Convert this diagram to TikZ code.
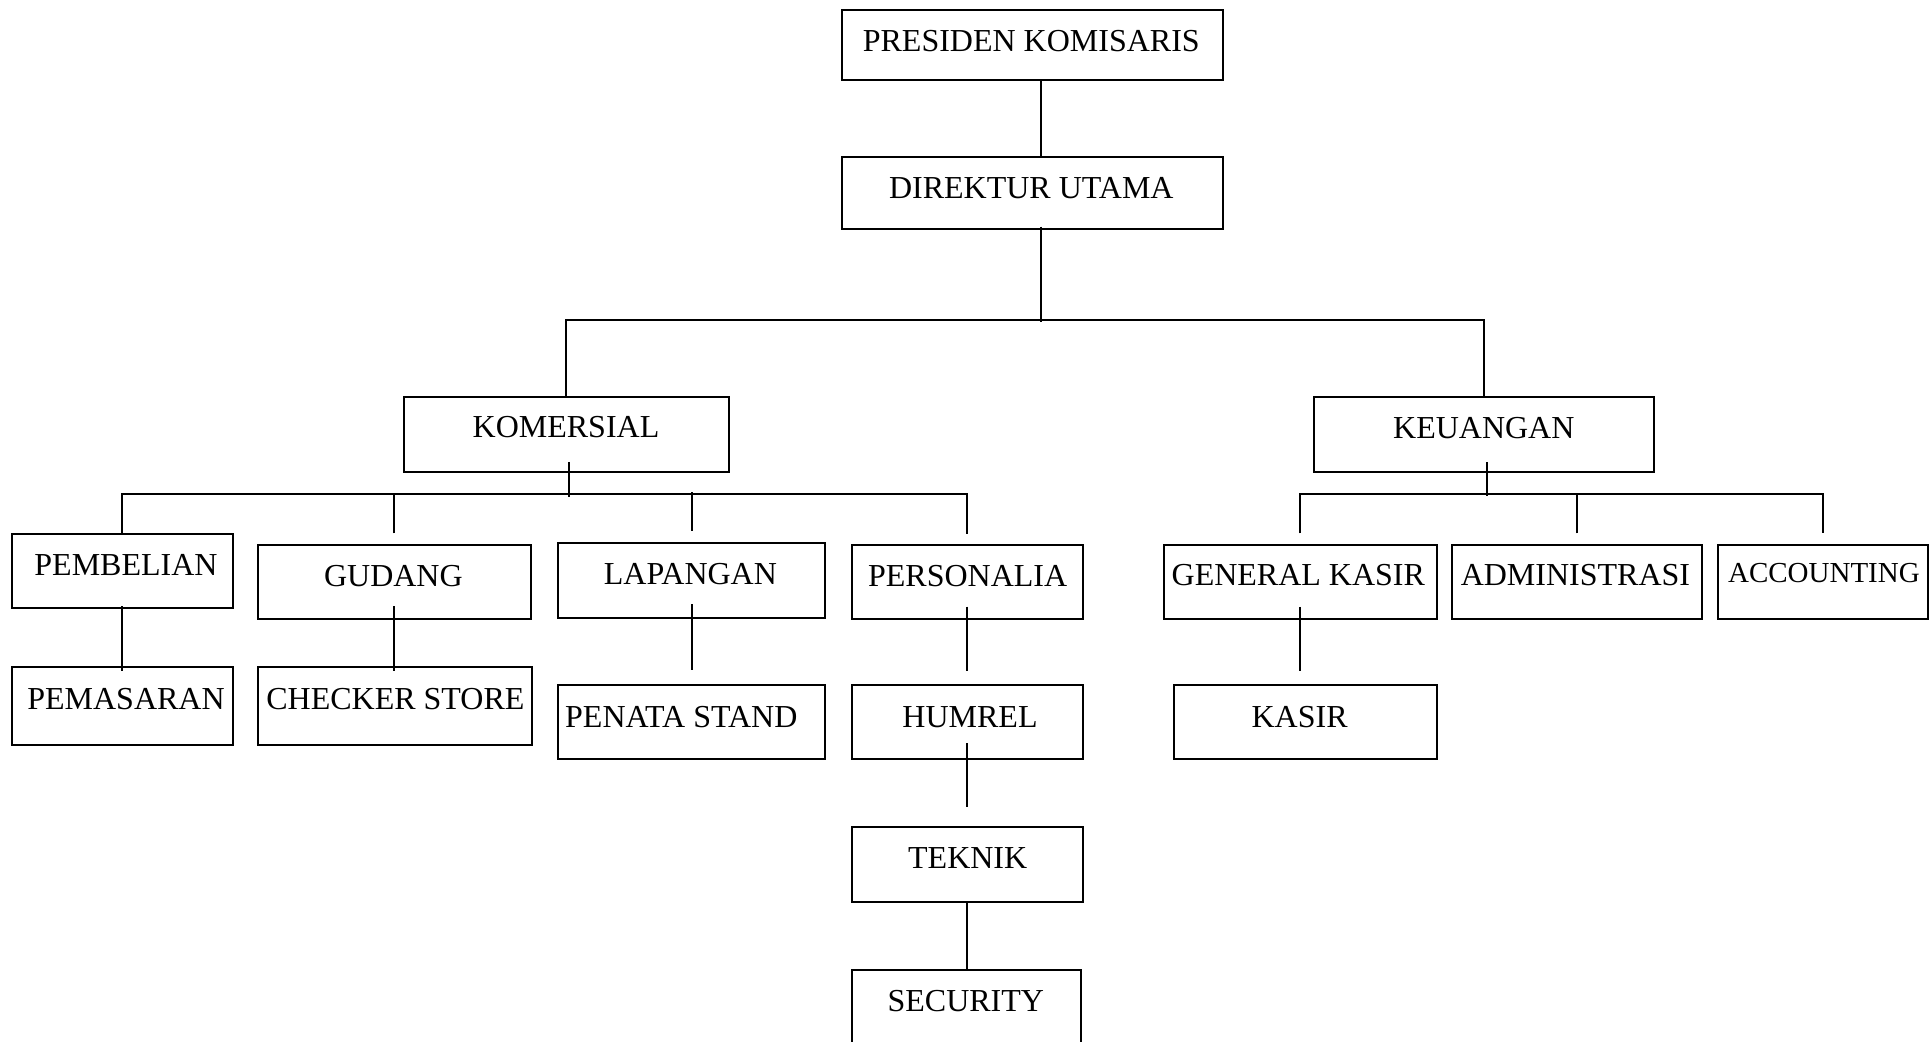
\documentclass[tikz,border=0pt]{standalone}
\usepackage{fontspec}
\setmainfont{Liberation Serif}
\begin{document}
\begin{tikzpicture}[x=0.5pt,y=-0.5pt,
  bx/.style 2 args={draw, line width=1pt, minimum width=#1*0.5pt, minimum height=#2*0.5pt, inner sep=0pt},
  txt/.style={anchor=base, inner sep=0pt, font=\fontsize{16pt}{19pt}\selectfont},
  con/.style={line width=1pt}]
\useasboundingbox (0,0) rectangle (1930,1041);
\fill[white] (0,0) rectangle (1930,1041);
\clip (0,0) rectangle (1930,1041);
% boxes
\node[bx={381}{70}]   (pk)    at (1032.2,45)    {};
\node[bx={381}{72.6}] (du)    at (1032.2,193)   {};
\node[bx={325}{74.7}] (kom)   at (566.2,434.6)  {};
\node[bx={340.3}{74.4}] (keu) at (1484.1,434.5) {};
\node[bx={220.6}{74.3}] (pemb) at (122.2,571.2) {};
\node[bx={272.8}{74.3}] (gud)  at (394.2,582.2) {};
\node[bx={267}{74.4}]   (lap)  at (691.5,580.5) {};
\node[bx={231.1}{74}]   (pers) at (967.4,582.3) {};
\node[bx={220.6}{78}]   (pemas) at (122.2,706.3) {};
\node[bx={274.4}{78}]   (chk)  at (395,706.3)   {};
\node[bx={267}{74.3}]   (pen)  at (691.5,722.2) {};
\node[bx={231.1}{74.3}] (hum)  at (967.4,722.2) {};
\node[bx={230.7}{74.4}] (tek)  at (967.4,864.5) {};
\node[bx={228.7}{74}]   (sec)  at (966.4,1007)  {};
\node[bx={272.7}{74.3}] (gk)   at (1300.4,582.2) {};
\node[bx={250.4}{74.3}] (adm)  at (1577.2,582.2) {};
\node[bx={209.7}{74.3}] (acc)  at (1823.2,582.2) {};
\node[bx={262.7}{74.3}] (kasir) at (1305.4,722.2) {};
% texts
\node[txt] (t-pk)    at (1031.3,51)    {PRESIDEN KOMISARIS};
\node[txt] (t-du)    at (1031.3,198.3) {DIREKTUR UTAMA};
\node[txt] (t-kom)   at (566,437.7)    {KOMERSIAL};
\node[txt] (t-keu)   at (1483.8,438.3) {KEUANGAN};
\node[txt] (t-pemb)  at (126,575.7)    {PEMBELIAN};
\node[txt] (t-gud)   at (393.4,586.7)  {GUDANG};
\node[txt] (t-lap)   at (690.4,584)    {LAPANGAN};
\node[txt] (t-pers)  at (967.7,586)    {PERSONALIA};
\node[txt] (t-pemas) at (126,709)      {PEMASARAN};
\node[txt] (t-chk)   at (395.4,709)    {CHECKER STORE};
\node[txt] (t-pen)   at (681.3,727)    {PENATA STAND};
\node[txt] (t-hum)   at (970,727)      {HUMREL};
\node[txt] (t-tek)   at (967.7,868)    {TEKNIK};
\node[txt] (t-sec)   at (965.8,1011.3) {SECURITY};
\node[txt] (t-gk)    at (1298.3,585.7) {GENERAL KASIR};
\node[txt] (t-adm)   at (1575.4,585.7) {ADMINISTRASI};
\node[txt, font=\fontsize{14.5pt}{17pt}\selectfont] (t-acc) at (1823.9,582.3) {ACCOUNTING};
\node[txt] (t-kasir) at (1299.6,727)   {KASIR};
% junctions
\coordinate (j0) at (1040.7,320);
\coordinate (j1) at (568.6,494);
\coordinate (j2) at (1486.5,494);
% connectors
\draw[con] (pk.south -| j0) -- (du.north -| j0);
\draw[con, shorten <=-1.8pt, shorten >=-0.85pt] (du.south -| j0) -- (j0);
\draw[con] (kom.north) |- (j0) -| (keu.north);
\draw[con, shorten <=-5.5pt, shorten >=-1.3pt] (kom.south -| j1) -- (j1);
\draw[con, shorten >=5.3pt] (pemb.north) |- (j1) -| (pers.north);
\draw[con, shorten <=5.3pt] (gud.north) -- (gud.north |- j1);
\draw[con, shorten <=5.8pt, shorten >=-1.2pt] (lap.north) -- (lap.north |- j1);
\draw[con, shorten <=-5.2pt, shorten >=-1.2pt] (keu.south -| j2) -- (j2);
\draw[con, shorten <=5.3pt, shorten >=5.3pt] (gk.north) |- (j2) -| (acc.north);
\draw[con, shorten <=5.3pt] (adm.north) -- (adm.north |- j2);
\draw[con, shorten <=-1.5pt, shorten >=-2.5pt] (pemb.south) -- (pemas.north);
\draw[con, shorten <=-7pt, shorten >=-2.5pt] (gud.south) -- (chk.north -| gud.south);
\draw[con, shorten <=-7.2pt, shorten >=7.1pt] (lap.south) -- (pen.north);
\draw[con, shorten <=-6.8pt, shorten >=6.3pt] (pers.south) -- (hum.north);
\draw[con, shorten <=-8.6pt, shorten >=9.5pt] (hum.south) -- (tek.north);
\draw[con] (tek.south) -- (sec.north -| tek.south);
\draw[con, shorten <=-6.8pt, shorten >=6.3pt] (gk.south) -- (kasir.north -| gk.south);
\end{tikzpicture}
\end{document}
